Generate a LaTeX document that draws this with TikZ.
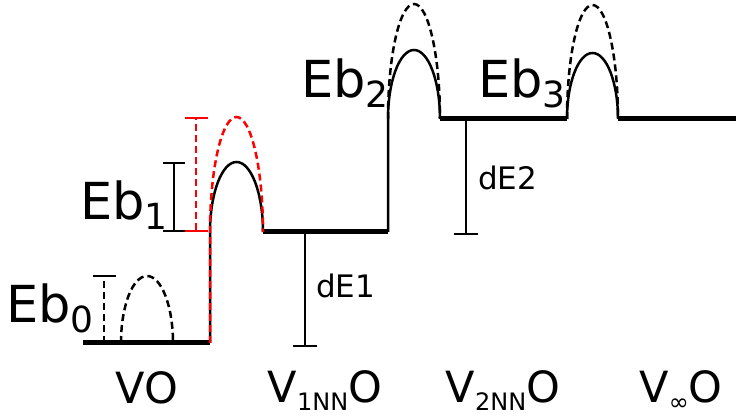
\documentclass[tikz,border=0pt]{standalone}
\usepackage{fontspec}
\setmainfont{DejaVu Sans}
\usepackage{xcolor}
\usepackage{tikz}
\usetikzlibrary{arrows.meta}
\definecolor{ebred}{RGB}{255,0,0}
\newcommand{\ebsub}[1]{\raisebox{-10pt}{\fontsize{36}{36}\selectfont #1}}
\newcommand{\sitesub}[1]{\raisebox{-8pt}{\fontsize{24}{24}\selectfont #1}}
\tikzset{
  level/.style={line width=5pt},
  barrier/.style={line width=2.5pt},
  ebbar/.style={line width=2pt},
  dashline/.style={dash pattern=on 7pt off 4pt},
  eblabel/.style={inner sep=0pt,font=\fontsize{51}{51}\selectfont},
  delabel/.style={inner sep=0pt,font=\fontsize{31}{31}\selectfont},
  sitelabel/.style={inner sep=0pt,font=\fontsize{43}{43}\selectfont}
}
\begin{document}
\begin{tikzpicture}[x=1pt,y=1pt]
  \useasboundingbox (0,0) rectangle (736,417);
  % energy levels of the four sites
  \coordinate (vo-l) at (83,74);    \coordinate (vo-r) at (210,74);
  \coordinate (n1-l) at (263,185);  \coordinate (n1-r) at (388,185);
  \coordinate (n2-l) at (440,298);  \coordinate (n2-r) at (567,298);
  \coordinate (ni-l) at (618,298);  \coordinate (ni-r) at (736,298);
  \draw[level] (vo-l) -- (vo-r);
  \draw[level] (n1-l) -- (n1-r);
  \draw[level] (n2-l) -- (n2-r);
  \draw[level] (ni-l) -- (ni-r);
  % barriers (solid) and their unrelaxed tops (dashed)
  \draw[barrier,dashline] (121,74) arc[start angle=180,end angle=0,x radius=26,y radius=67];
  \draw[barrier] (vo-r) -- (210,185) arc[start angle=180,end angle=0,x radius=26.5,y radius=70];
  \draw[barrier,ebred,dashline] (vo-r) -- (210,185) arc[start angle=180,end angle=0,x radius=26.5,y radius=115];
  \draw[barrier] (n1-r) -- (388,298) arc[start angle=180,end angle=0,x radius=26,y radius=69];
  \draw[barrier,dashline] (388,298) arc[start angle=180,end angle=0,x radius=26,y radius=115];
  \draw[barrier] (n2-r) arc[start angle=180,end angle=0,x radius=25.5,y radius=66];
  \draw[barrier,dashline] (n2-r) arc[start angle=180,end angle=0,x radius=25.5,y radius=114];
  % barrier heights
  \coordinate (eb0-b) at (104,74);  \coordinate (eb0-t) at (104,142);
  \coordinate (eb1-b) at (174,185); \coordinate (eb1-t) at (174,255);
  \coordinate (ebr-b) at (196,185); \coordinate (ebr-t) at (196,300);
  \draw[ebbar,dashline,-{Bar[width=23pt]}] (eb0-b) -- (eb0-t);
  \draw[ebbar,{Bar[width=22pt]}-{Bar[width=22pt]}] (eb1-b) -- (eb1-t);
  \draw[ebbar,ebred,dashline,{Bar[width=23pt]}-{Bar[width=23pt]}] (ebr-b) -- (ebr-t);
  % energy differences between sites
  \coordinate (de1-t) at (305,185); \coordinate (de1-b) at (305,70);
  \coordinate (de2-t) at (466,298); \coordinate (de2-b) at (466,182);
  \draw[ebbar,-{Bar[width=24pt]}] (de1-t) -- (de1-b);
  \draw[ebbar,-{Bar[width=24pt]}] (de2-t) -- (de2-b);
  % labels
  \node[eblabel,anchor=base east] (eb0) at (94,94) {Eb\ebsub{0}};
  \node[eblabel,anchor=base east] (eb1) at (168,197) {Eb\ebsub{1}};
  \node[eblabel,anchor=base west] (eb2) at (301,319) {Eb\ebsub{2}};
  \node[eblabel,anchor=base west] (eb3) at (478,319) {Eb\ebsub{3}};
  \node[delabel,anchor=base west] (de1) at (316,119) {dE1};
  \node[delabel,anchor=base west] (de2) at (478,227) {dE2};
  \node[sitelabel,anchor=base] (vo) at (147,13) {VO};
  \node[sitelabel,anchor=base] (v1) at (325,14) {V\sitesub{1NN}O};
  \node[sitelabel,anchor=base] (v2) at (503,14) {V\sitesub{2NN}O};
  \node[sitelabel,anchor=base] (vi) at (681,14) {V\sitesub{∞}O};
\end{tikzpicture}
\end{document}
